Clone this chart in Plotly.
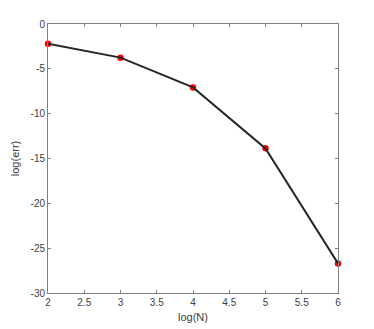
import plotly.graph_objects as go

log_n = [2, 3, 4, 5, 6]
log_err = [-2.2, -3.75, -7.07, -13.87, -26.7]

x_ticks = [2, 2.5, 3, 3.5, 4, 4.5, 5, 5.5, 6]
y_ticks = [-30, -25, -20, -15, -10, -5, 0]

FONT = "Liberation Sans, Arial"

fig = go.Figure()
fig.add_trace(go.Scatter(
    x=log_n, y=log_err, mode="markers",
    marker=dict(color="red", size=6.5), cliponaxis=False,
))
fig.add_trace(go.Scatter(
    x=log_n, y=log_err, mode="lines",
    line=dict(color="#262626", width=2),
))

axis_common = dict(
    showgrid=False, zeroline=False, showline=True, mirror="ticks",
    linecolor="#808080", linewidth=1, ticks="inside", ticklen=3,
    tickcolor="#808080", automargin=False,
    tickfont=dict(family=FONT, size=10, color="#404040"),
)

fig.update_layout(
    width=366, height=321,
    margin=dict(l=40, r=36, t=16, b=36, autoexpand=False),
    paper_bgcolor="white", plot_bgcolor="white",
    showlegend=False,
    xaxis=dict(range=[2, 6], tickvals=x_ticks, ticktext=[str(v) for v in x_ticks],
               title=dict(text="log(N)", font=dict(family=FONT, size=11, color="#404040"), standoff=6),
               **axis_common),
    yaxis=dict(range=[-30, 0], tickvals=y_ticks, ticktext=[str(v) for v in y_ticks],
               title=dict(text="log(err)", font=dict(family=FONT, size=11, color="#404040"), standoff=8),
               **axis_common),
)

fig.write_html("out.html")
